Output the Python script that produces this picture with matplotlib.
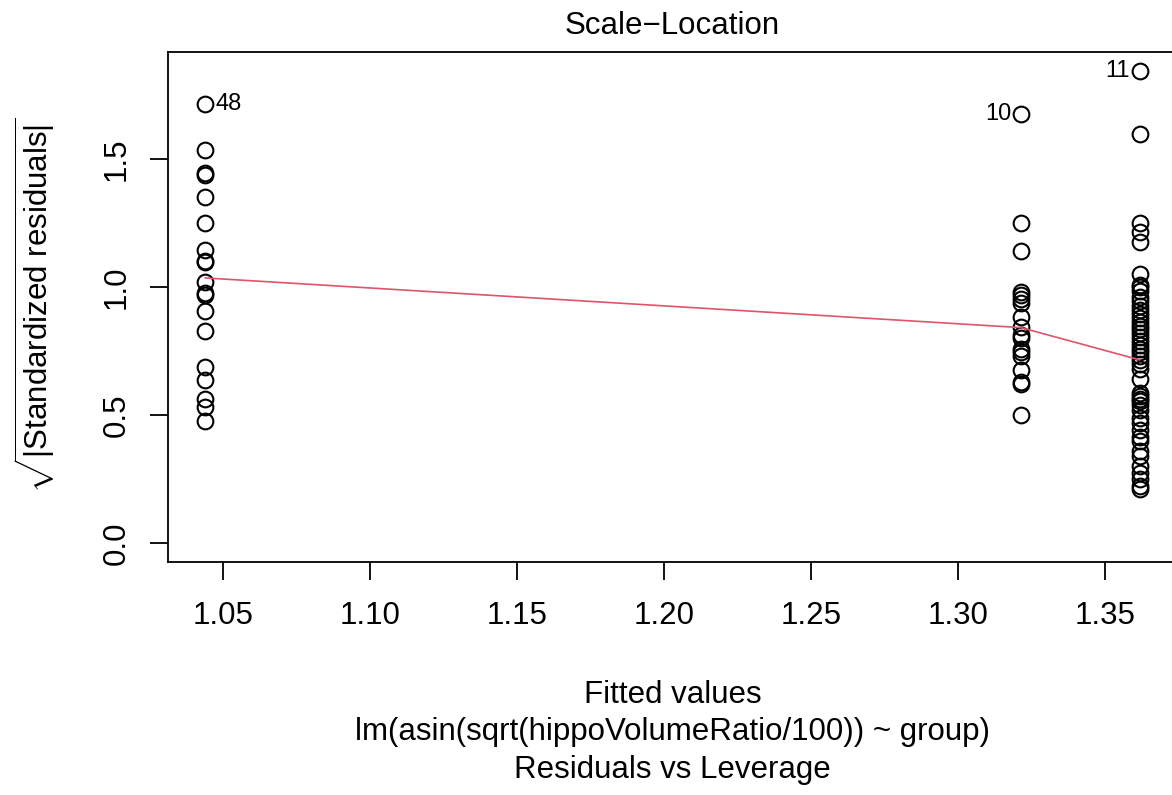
import matplotlib
matplotlib.use("Agg")
import matplotlib.pyplot as plt
import numpy as np

plt.rcParams['font.family'] = ['Liberation Sans', 'DejaVu Sans']
plt.rcParams['mathtext.fontset'] = 'custom'
plt.rcParams['mathtext.rm'] = 'Liberation Sans'
plt.rcParams['mathtext.it'] = 'Liberation Sans:italic'
plt.rcParams['mathtext.bf'] = 'Liberation Sans:bold'

# fitted values of the three groups
fitted_groups = [1.0439, 1.3215, 1.3619]

# sqrt(|standardized residuals|) per group
group1 = [1.715, 1.535, 1.445, 1.440, 1.352, 1.252, 1.144, 1.104, 1.098, 1.020,
          0.978, 0.968, 0.907, 0.830, 0.690, 0.636, 0.563, 0.530, 0.478]
group2 = [1.675, 1.252, 1.142, 0.982, 0.970, 0.955, 0.940, 0.885, 0.845, 0.815,
          0.800, 0.760, 0.745, 0.730, 0.675, 0.630, 0.620, 0.500]
group3 = [1.845, 1.600, 1.250, 1.216, 1.176,
          1.050, 1.010, 1.000, 0.985, 0.960, 0.945, 0.925, 0.910, 0.895, 0.880,
          0.865, 0.850, 0.835, 0.820, 0.805, 0.790, 0.775, 0.760, 0.745, 0.730,
          0.715, 0.700, 0.680, 0.640,
          0.585, 0.575, 0.565, 0.555, 0.540, 0.520, 0.490, 0.470, 0.440, 0.415,
          0.400, 0.360, 0.340, 0.300, 0.275, 0.250, 0.225, 0.210]
groups = [group1, group2, group3]

# lowess smoother values at the group fitted values
smooth_vals = [1.036, 0.842, 0.716]

# labelled observations: (label, group index, value, side)
point_labels = [("48", 0, 1.715, "right"), ("10", 1, 1.675, "left"), ("11", 2, 1.845, "left")]

xticks = [1.05, 1.10, 1.15, 1.20, 1.25, 1.30, 1.35]
yticks = [0.0, 0.5, 1.0, 1.5]

FS = 22.5
W, H = 1172, 795
fig = plt.figure(figsize=(W / 100, H / 100), dpi=100)
left, right, top, bottom = 168, 1177, 52, 562
ax = fig.add_axes([left / W, 1 - bottom / H, (right - left) / W, (bottom - top) / H])

xs_all, ys_all = [], []
for fx, g in zip(fitted_groups, groups):
    xs_all += [fx] * len(g)
    ys_all += g
ax.plot(xs_all, ys_all, linestyle='none', marker='o', markersize=11.3,
        markerfacecolor='none', markeredgecolor='black', markeredgewidth=1.5)
ax.plot(fitted_groups, smooth_vals, color='#DF536B', linewidth=1.2)

for lab, gi, val, side in point_labels:
    dx = 7 if side == "right" else -7
    ax.annotate(lab, (fitted_groups[gi], val), xytext=(dx, 0), textcoords='offset points',
                ha='left' if side == "right" else 'right', va='center', fontsize=17)

xr = max(fitted_groups) - min(fitted_groups)
ax.set_xlim(min(fitted_groups) - 0.04 * xr, max(fitted_groups) + 0.04 * xr)
ymax = max(max(g) for g in groups)
ax.set_ylim(-0.04 * ymax, 1.04 * ymax)

ax.set_xticks(xticks)
ax.set_xticklabels([f"{t:.2f}" for t in xticks])
ax.set_yticks(yticks)
ax.set_yticklabels([f"{t:.1f}" for t in yticks], rotation=90, va='center')
ax.tick_params(axis='both', length=13, width=1.3, labelsize=FS, direction='out')
ax.tick_params(axis='x', pad=15)
ax.tick_params(axis='y', pad=13)
for s in ax.spines.values():
    s.set_linewidth(1.3)

cx = (left + right) / 2 / W
fig.text(cx, 1 - 26 / H, "Scale\u2212Location", ha='center', va='center', fontsize=FS)
fig.text(cx, 1 - 695 / H, "Fitted values", ha='center', va='center', fontsize=FS)
fig.text(cx, 1 - 732 / H, "lm(asin(sqrt(hippoVolumeRatio/100)) ~ group)", ha='center', va='center', fontsize=FS)
fig.text(cx, 1 - 770 / H, "Residuals vs Leverage", ha='center', va='center', fontsize=FS)
fig.text(35 / W, 1 - 305 / H, r"$\sqrt{|\mathrm{Standardized\ residuals}|}$", rotation=90,
         ha='center', va='center', fontsize=FS)

fig.savefig("out.png", dpi=100)
